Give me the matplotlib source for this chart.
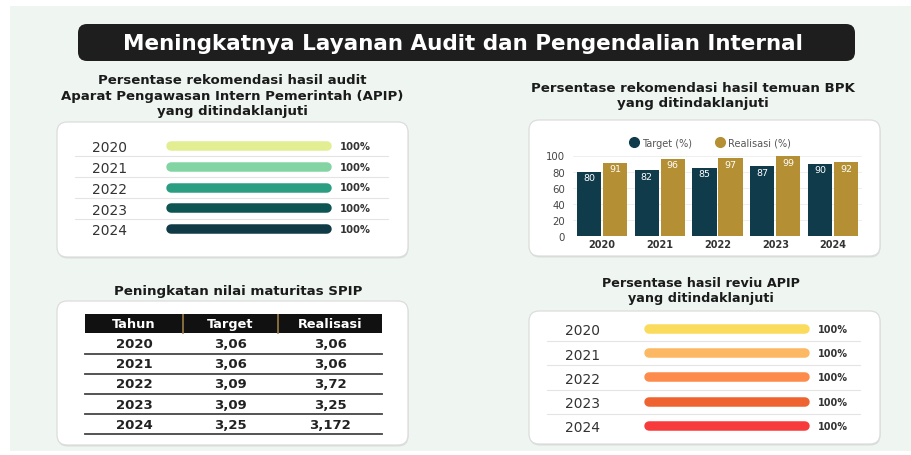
import matplotlib
matplotlib.use("Agg")
import matplotlib.pyplot as plt
from matplotlib.patches import FancyBboxPatch, Rectangle
from matplotlib.lines import Line2D

plt.rcParams['font.family'] = ['DejaVu Sans']

# ---------------- data ----------------
years = ["2020", "2021", "2022", "2023", "2024"]
apip_audit_pct = [100, 100, 100, 100, 100]
apip_audit_colors = ["#e2ee91", "#82d4a3", "#2b9e82", "#0c5552", "#0f3a46"]

bpk_target = [80, 82, 85, 87, 90]
bpk_realisasi = [91, 96, 97, 99, 92]
bpk_series = ["Target (%)", "Realisasi (%)"]
bpk_colors = ["#0f3b4b", "#b48f33"]
bpk_yticks = [0, 20, 40, 60, 80, 100]

spip_header = ["Tahun", "Target", "Realisasi"]
spip_target = ["3,06", "3,06", "3,09", "3,09", "3,25"]
spip_realisasi = ["3,06", "3,06", "3,72", "3,25", "3,172"]

reviu_pct = [100, 100, 100, 100, 100]
reviu_colors = ["#fbdb5c", "#fcb862", "#fd8b4b", "#ef6331", "#f73b3c"]

main_title = "Meningkatnya Layanan Audit dan Pengendalian Internal"
title_apip = ["Persentase rekomendasi hasil audit",
              "Aparat Pengawasan Intern Pemerintah (APIP)",
              "yang ditindaklanjuti"]
title_bpk = ["Persentase rekomendasi hasil temuan BPK", "yang ditindaklanjuti"]
title_spip = ["Peningkatan nilai maturitas SPIP"]
title_reviu = ["Persentase hasil reviu APIP", "yang ditindaklanjuti"]

# ---------------- figure ----------------
W, H = 911, 456
DPI = 100
fig = plt.figure(figsize=(W / DPI, H / DPI), dpi=DPI)
fig.patch.set_facecolor("white")
renderer = fig.canvas.get_renderer()

bg = fig.add_axes([0, 0, 1, 1])
bg.set_xlim(0, W)
bg.set_ylim(H, 0)
bg.axis("off")
bg.add_patch(Rectangle((10, 7), W - 10, 445, fc="#eff6f1", ec="none"))


def px_axes(x0, y0, x1, y1):
    ax = fig.add_axes([x0 / W, 1 - y1 / H, (x1 - x0) / W, (y1 - y0) / H])
    ax.patch.set_alpha(0)
    return ax


def card(x0, y0, x1, y1):
    # soft shadow
    bg.add_patch(FancyBboxPatch((x0 + 0.5, y0 + 1.5), x1 - x0, y1 - y0,
                                boxstyle="round,pad=0,rounding_size=10",
                                fc="#d9dedb", ec="none"))
    bg.add_patch(FancyBboxPatch((x0, y0), x1 - x0, y1 - y0,
                                boxstyle="round,pad=0,rounding_size=10",
                                fc="white", ec="#dcdcdc", lw=0.9))


def fit(t, width):
    bb = t.get_window_extent(renderer)
    t.set_fontsize(t.get_fontsize() * width / bb.width)
    return t.get_fontsize()


def title_block(lines, xc, ys, widest, width, color="#1b1b1b"):
    ts = [bg.text(xc, y, s, ha="center", va="center", weight="bold",
                  color=color, fontsize=10) for s, y in zip(lines, ys)]
    fs = fit(ts[widest], width)
    for t in ts:
        t.set_fontsize(fs)


# title bar
bg.add_patch(FancyBboxPatch((78, 25), 777, 37,
                            boxstyle="round,pad=0,rounding_size=9",
                            fc="#1e1e1e", ec="none"))
tt = bg.text(463, 44, main_title, ha="center", va="center", color="white",
             weight="bold", fontsize=14)
fit(tt, 682)

# cards
card(57, 123, 408, 258)
card(529, 121, 880, 257)
card(57, 302, 408, 446)
card(529, 312, 880, 445)

# subtitles
title_block(title_apip, 232.5, [81, 97, 112], 1, 345)
title_block(title_bpk, 692.5, [89, 104], 0, 325)
title_block(title_spip, 238, [292], 0, 250)
title_block(title_reviu, 701, [284, 299], 0, 198)


# ---------------- pill bar panels ----------------
def pill_panel(x0, x1, y_first, pitch, values, colors, pad_px, lab_fs,
               sep_x0, sep_x1, lw_px=9.5):
    n = len(values)
    ax = px_axes(x0, y_first - pitch / 2, x1, y_first + pitch * (n - 0.5))
    cap = lw_px / 2
    scale = (x1 - x0 - 2 * cap) / 100.0
    ax.set_xlim(-cap / scale, 100 + cap / scale)
    ax.set_ylim(n - 0.5, -0.5)
    for i, (v, c) in enumerate(zip(values, colors)):
        ax.plot([0, v], [i, i], lw=lw_px * 72 / DPI, color=c,
                solid_capstyle="round", clip_on=False)
        ax.annotate(f"{v}%", xy=(v, i), xytext=((cap + 8) * 72 / DPI, 0),
                    textcoords="offset points", ha="left", va="center",
                    fontsize=lab_fs, weight="bold", color="#333333")
    for i in range(n - 1):
        ax.axhline(i + 0.5, xmin=(sep_x0 - x0) / (x1 - x0),
                   xmax=(sep_x1 - x0) / (x1 - x0), color="#e4e4e4",
                   lw=0.8, clip_on=False)
    ax.set_yticks(range(n))
    ax.set_yticklabels(years, fontsize=10, color="#333333")
    ax.tick_params(axis="y", length=0, pad=pad_px * 72 / DPI)
    ax.set_xticks([])
    for s in ax.spines.values():
        s.set_visible(False)
    return ax


pill_panel(166, 332, 147, 20.75, apip_audit_pct, apip_audit_colors,
           39, 7.2, 75, 388)
pill_panel(644, 810, 330, 24.2, reviu_pct, reviu_colors,
           44, 7.0, 547, 860)

# ---------------- BPK grouped bars ----------------
axb = px_axes(573, 156.5, 862, 237)
xs = list(range(len(years)))
bw = 0.42
off = 0.225
bars_t = axb.bar([x - off for x in xs], bpk_target, width=bw,
                 color=bpk_colors[0], zorder=3)
bars_r = axb.bar([x + off for x in xs], bpk_realisasi, width=bw,
                 color=bpk_colors[1], zorder=3)
for bars, vals in ((bars_t, bpk_target), (bars_r, bpk_realisasi)):
    for b, v in zip(bars, vals):
        axb.annotate(f"{v}", xy=(b.get_x() + b.get_width() / 2, v),
                     xytext=(0, -4.5), textcoords="offset points",
                     ha="center", va="center", color="white", fontsize=6.8,
                     zorder=4)
axb.set_xlim(-0.5, len(years) - 0.5)
axb.set_ylim(0, 100)
axb.set_yticks(bpk_yticks)
axb.set_yticklabels([str(v) for v in bpk_yticks], fontsize=7.3,
                    color="#444444")
axb.set_xticks(xs)
axb.set_xticklabels(years, fontsize=7, weight="bold", color="#333333")
axb.tick_params(axis="y", length=0, pad=8 * 72 / DPI)
axb.tick_params(axis="x", length=0, pad=2)
axb.yaxis.grid(True, color="#ededed", lw=0.6, zorder=0)
axb.set_axisbelow(True)
for s in axb.spines.values():
    s.set_visible(False)
handles = [Line2D([], [], marker="o", ls="", ms=7, color=c) for c in bpk_colors]
axb.legend(handles, bpk_series, loc="center", bbox_to_anchor=(0.474, 1.16),
           ncol=2, frameon=False, fontsize=7, handlelength=1.0,
           handletextpad=0.4, columnspacing=2.3, labelcolor="#555555")

# ---------------- SPIP table ----------------
axt = px_axes(85, 314.6, 382, 435.2)
n = len(years)
axt.set_xlim(0, 1)
axt.set_ylim(n - 0.5, -1.5)
axt.axis("off")
col_edges = [0.0, 0.33, 0.65, 1.0]
col_c = [(a + b) / 2 for a, b in zip(col_edges[:-1], col_edges[1:])]
axt.add_patch(Rectangle((0, -1.5), 1, 0.95, fc="#111111", ec="none"))
for xe in col_edges[1:-1]:
    axt.plot([xe, xe], [-1.5, -0.55], color="#9a7b45", lw=1.2)
for c, h in zip(col_c, spip_header):
    axt.text(c, -1.02, h, ha="center", va="center", color="white",
             weight="bold", fontsize=9.3)
for i, row in enumerate(zip(years, spip_target, spip_realisasi)):
    for c, s in zip(col_c, row):
        axt.text(c, i, s, ha="center", va="center", color="#222222",
                 weight="bold", fontsize=9.5)
    axt.axhline(i + 0.5, color="#454545", lw=1.3, clip_on=False)

fig.savefig("out.png", dpi=DPI, facecolor=fig.get_facecolor())
